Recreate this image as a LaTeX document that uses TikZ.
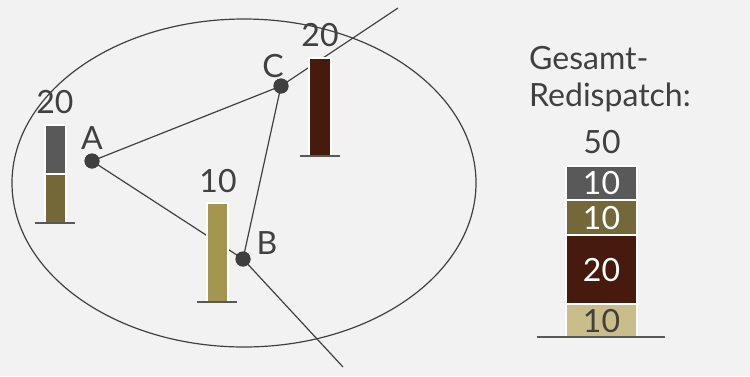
\documentclass[tikz,border=0pt]{standalone}
\usepackage{fontspec}
\setmainfont{Lato}
\begin{document}
\begin{tikzpicture}[x=1pt,y=-1pt,
  txt/.style={text=txtc,font=\fontsize{32}{38}\selectfont,inner sep=0pt},
  wtxt/.style={text=white,font=\fontsize{32}{38}\selectfont,inner sep=0pt},
  pt/.style={circle,fill=ptc,minimum size=15pt,inner sep=0pt},
  ln/.style={draw=linec,line width=1.2pt},
  barbox/.style={draw=white,line width=2pt},
  base/.style={draw=basec,line width=2pt}]
\definecolor{bg}{HTML}{F2F2F2}
\definecolor{txtc}{HTML}{404040}
\definecolor{ptc}{HTML}{3F3F3F}
\definecolor{linec}{HTML}{404040}
\definecolor{basec}{HTML}{595959}
\definecolor{cgray}{HTML}{595959}
\definecolor{colive}{HTML}{746838}
\definecolor{ctan}{HTML}{A5964F}
\definecolor{cbrown}{HTML}{461A0D}
\definecolor{clight}{HTML}{C9BD8A}
\fill[bg] (0,0) rectangle (750,376);
\useasboundingbox (0,0) rectangle (750,376);
% ellipse
\draw[ln] (244,183) ellipse [x radius=232pt, y radius=164pt];
% points
\node[pt] (A) at (92,161) {};
\node[pt] (B) at (243,259) {};
\node[pt] (C) at (281,86) {};
\coordinate (Cend) at (398,8);
\coordinate (Bend) at (343,367);
\draw[ln] (A.center) -- (C.center);
\draw[ln] (A.center) -- (B.center);
\draw[ln] (C.center) -- (B.center);
\draw[ln] (C.center) -- (Cend);
\draw[ln] (B.center) -- (Bend);
% bars
\filldraw[barbox,fill=cgray] (45,125) rectangle (66,174);
\filldraw[barbox,fill=colive] (45,174) rectangle (66,223);
\draw[base] (35,223) -- (75,223);
\filldraw[barbox,fill=ctan] (207,203) rectangle (228,302);
\draw[base] (197,302) -- (237,302);
\filldraw[barbox,fill=cbrown] (309,58) rectangle (331,156);
\draw[base] (300,156) -- (340,156);
% redraw points on top
\node[pt] at (A) {};
\node[pt] at (B) {};
\node[pt] at (C) {};
% labels
\node[txt] (lA) at (92,138) {A};
\node[txt] (lB) at (267,243) {B};
\node[txt] (lC) at (273,66) {C};
\node[txt] (vA) at (55,102) {20};
\node[txt] (vB) at (218,181) {10};
\node[txt] (vC) at (320,35) {20};
% stack
\node[txt,anchor=base west] (g1) at (529,69) {Gesamt-};
\node[txt,anchor=base west] (g2) at (529,106) {Redispatch:};
\node[txt] (tot) at (602,142) {50};
\filldraw[barbox,fill=cgray] (566,166) rectangle (637,200);
\filldraw[barbox,fill=colive] (566,200) rectangle (637,235);
\filldraw[barbox,fill=cbrown] (566,235) rectangle (637,304);
\filldraw[barbox,fill=clight] (566,304) rectangle (637,337);
\draw[base] (537,337) -- (665,337);
\node[wtxt] (s1) at (601.5,183) {10};
\node[wtxt] (s2) at (601.5,218) {10};
\node[wtxt] (s3) at (601.5,270) {20};
\node[txt] (s4) at (601.5,321) {10};
\end{tikzpicture}
\end{document}
